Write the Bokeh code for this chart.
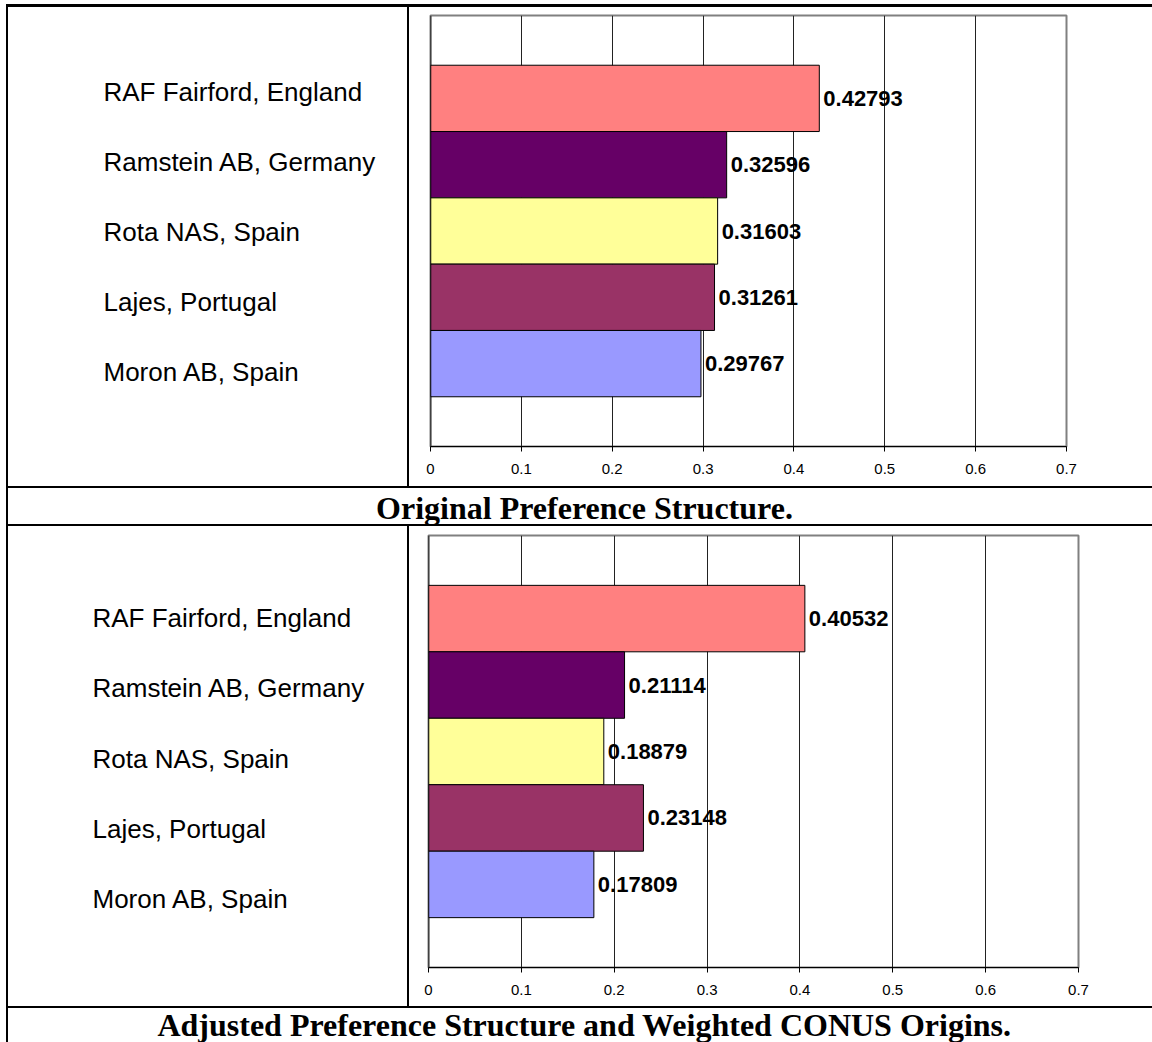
from bokeh.plotting import figure
from bokeh.models import Range1d, FixedTicker, ColumnDataSource, Span, Div, Spacer
from bokeh.layouts import column, row
from bokeh.core.properties import value
from bokeh.embed import file_html
from bokeh.resources import INLINE

# ---- data ----
locations = ["RAF Fairford, England", "Ramstein AB, Germany", "Rota NAS, Spain",
             "Lajes, Portugal", "Moron AB, Spain"]
original = [0.42793, 0.32596, 0.31603, 0.31261, 0.29767]
adjusted = [0.40532, 0.21114, 0.18879, 0.23148, 0.17809]
colors = ["#FF8080", "#660066", "#FFFF99", "#993366", "#9999FF"]
tick_values = [0, 0.1, 0.2, 0.3, 0.4, 0.5, 0.6, 0.7]
tick_labels = ["0", "0.1", "0.2", "0.3", "0.4", "0.5", "0.6", "0.7"]
captions = ["Original Preference Structure.",
            "Adjusted Preference Structure and Weighted CONUS Origins."]

SANS = value("Liberation Sans")
SERIF = value("Liberation Serif")
TOTAL_W = 1152
LEFT_PAD = 6


def rule(w, h):
    return Div(text="", width=w, height=h, margin=0,
               styles={"background-color": "black"})


def pad(w, h):
    return Spacer(width=w, height=h, margin=0)


def blank(w, h, bt=0, fh=None):
    fh = h - bt if fh is None else fh
    f = figure(width=w, height=h, toolbar_location=None, output_backend="svg",
               min_border=0, min_border_top=bt, min_border_bottom=h - bt - fh,
               x_axis_type=None, y_axis_type=None,
               outline_line_color=None, background_fill_color="white",
               border_fill_color="white", x_range=Range1d(0, w),
               y_range=Range1d(bt + fh, bt))
    return f


def label_panel(w, h, bt, fh, x0, first, step):
    # frame matches the chart frame in the same row (Bokeh aligns them)
    f = blank(w, h, bt, fh)
    ys = [first + i * step for i in range(len(locations))]
    src = ColumnDataSource(dict(x=[x0] * len(locations), y=ys, t=locations))
    f.text(x="x", y="y", text="t", source=src, text_font=SANS, text_font_size="26px",
           text_color="black", text_baseline="middle", text_align="left")
    return f


def chart(vals, w, h, bl, br, bt, bb):
    n = len(vals)
    gap = 0.75
    p = figure(width=w, height=h, toolbar_location=None, output_backend="svg",
               x_range=Range1d(tick_values[0], tick_values[-1]),
               y_range=Range1d(-0.5 - gap, n - 0.5 + gap),
               y_axis_type=None,
               min_border_left=bl, min_border_right=br, min_border_top=bt,
               min_border_bottom=bb,
               background_fill_color="white", border_fill_color="white",
               outline_line_color="#808080", outline_line_width=2)
    ys = [n - 1 - i for i in range(n)]
    src = ColumnDataSource(dict(y=ys, v=vals, c=colors,
                                lbl=[f"{v:.5f}" for v in vals]))
    p.hbar(y="y", left=0, right="v", height=1, fill_color="c", line_color="black",
           line_width=1, source=src)
    p.text(x="v", y="y", text="lbl", source=src, x_offset=4, text_font=SANS,
           text_font_style="bold", text_font_size="22px", text_color="black",
           text_baseline="middle", text_align="left")
    p.add_layout(Span(location=0, dimension="height", line_color="black", line_width=1.5))

    ax = p.xaxis[0]
    ax.ticker = FixedTicker(ticks=tick_values)
    ax.major_label_overrides = {t: l for t, l in zip(tick_values, tick_labels)}
    ax.axis_line_color = "black"
    ax.axis_line_width = 1
    ax.major_tick_line_color = "black"
    ax.major_tick_out = 5
    ax.major_tick_in = 0
    ax.minor_tick_line_color = None
    ax.major_label_standoff = 12
    ax.major_label_text_font = "Liberation Sans"
    ax.major_label_text_font_size = "15px"
    ax.major_label_text_color = "black"

    p.xgrid.ticker = FixedTicker(ticks=tick_values)
    p.xgrid.grid_line_color = "#222222"
    p.xgrid.grid_line_width = 1
    return p


def caption(text, w, h, cx, cy, size):
    f = blank(w, h)
    src = ColumnDataSource(dict(x=[cx], y=[cy], t=[text]))
    f.text(x="x", y="y", text="t", source=src, text_font=SERIF, text_font_style="bold",
           text_font_size=size, text_color="black", text_baseline="middle",
           text_align="center")
    return f


INNER_W = TOTAL_W - LEFT_PAD - 2          # width right of the outer border
LEFT_W = 399                               # label column
CHART_W = INNER_W - LEFT_W - 2             # chart column

H1, H2, HC1, HC2 = 479, 480, 36, 34
BT1, FH1, BT2, FH2 = 8, 431, 9, 432

left1 = label_panel(LEFT_W, H1, BT1, FH1, 95, 84, 70)
chart1 = chart(original, CHART_W, H1, 21, CHART_W - 21 - 636, BT1, H1 - BT1 - FH1)
left2 = label_panel(LEFT_W, H2, BT2, FH2, 84, 91.5, 70.3)
chart2 = chart(adjusted, CHART_W, H2, 19, CHART_W - 19 - 650, BT2, H2 - BT2 - FH2)
cap1 = caption(captions[0], INNER_W, HC1, 576, 19, "32px")
cap2 = caption(captions[1], INNER_W, HC2, 576, 16, "32px")


def hrule(h):
    return row(pad(LEFT_PAD, h), rule(TOTAL_W - LEFT_PAD, h), spacing=0)


layout = column(
    pad(TOTAL_W, 4),
    hrule(3),
    row(pad(LEFT_PAD, H1), rule(2, H1), left1, rule(2, H1), chart1, spacing=0),
    hrule(2),
    row(pad(LEFT_PAD, HC1), rule(2, HC1), cap1, spacing=0),
    hrule(2),
    row(pad(LEFT_PAD, H2), rule(2, H2), left2, rule(2, H2), chart2, spacing=0),
    hrule(2),
    row(pad(LEFT_PAD, HC2), rule(2, HC2), cap2, spacing=0),
    spacing=0,
)

open("out.html", "w").write(file_html(layout, INLINE))
